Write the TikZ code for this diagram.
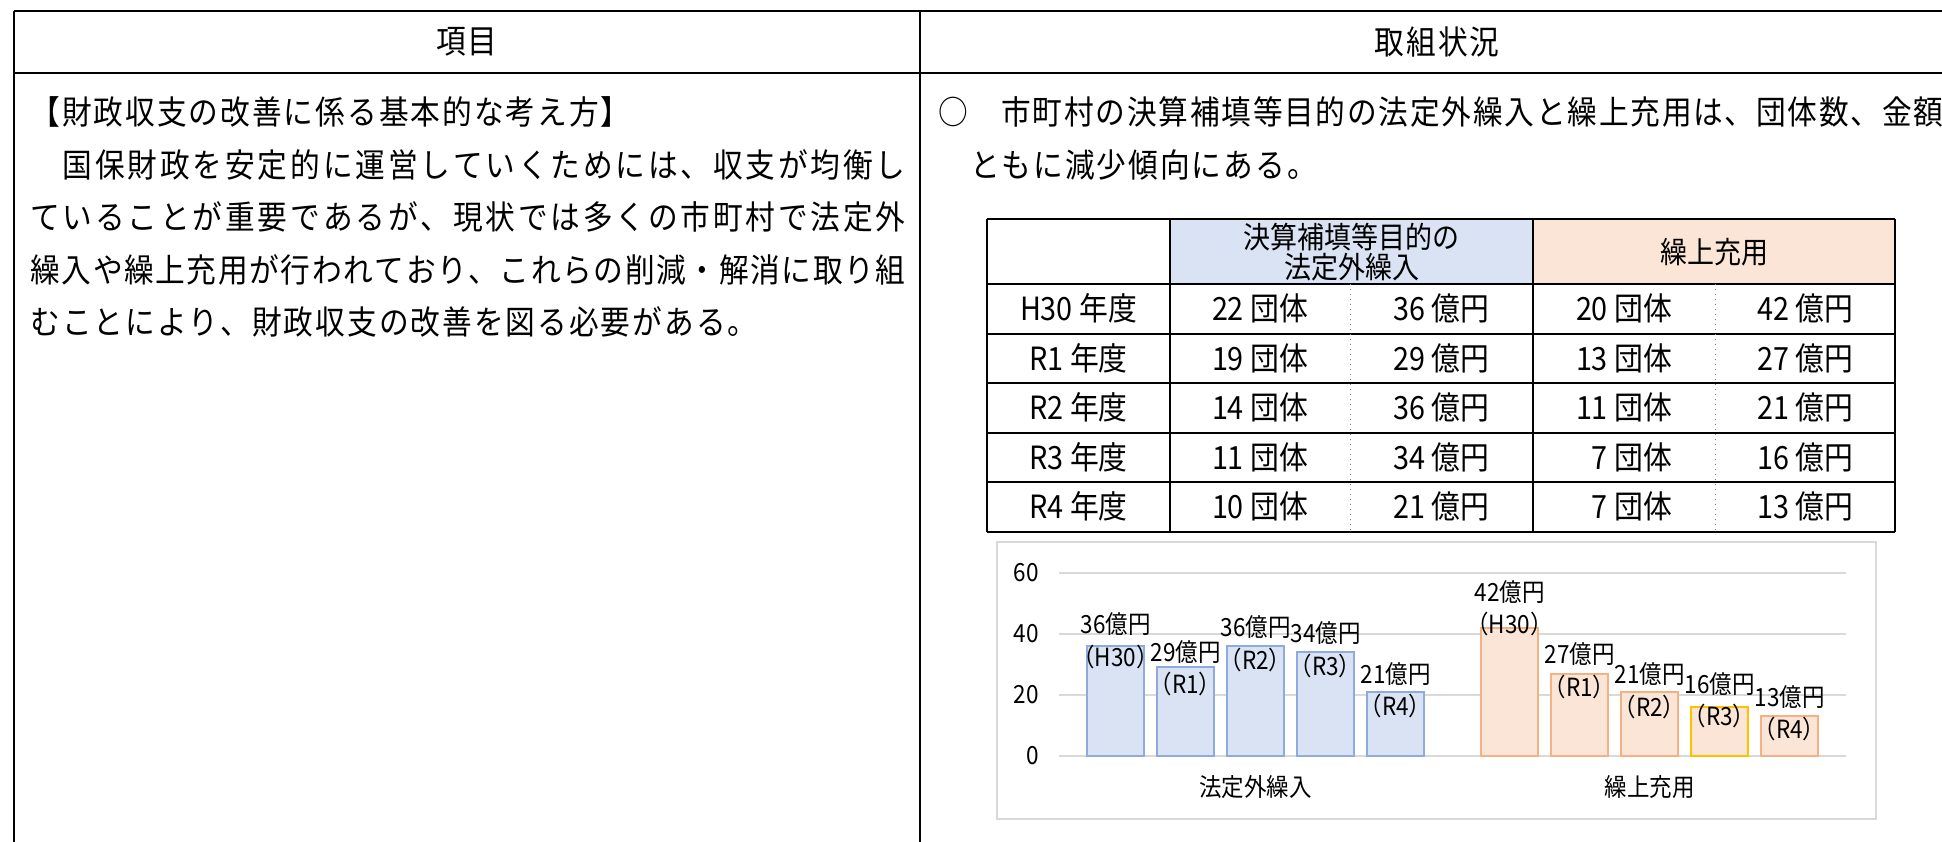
\documentclass[tikz,border=0pt]{standalone}
\usepackage{fontspec}
\newfontfamily\jpf[FakeStretch=0.9]{Noto Sans CJK JP}
\definecolor{hdblue}{HTML}{DAE3F3}
\definecolor{hdorange}{HTML}{FBE5D6}
\definecolor{blueedge}{HTML}{8FAADC}
\definecolor{orangeedge}{HTML}{F4B183}
\definecolor{goldedge}{HTML}{FFC000}
\definecolor{gridgray}{HTML}{D9D9D9}
% spread characters of a line with a given glue between them
\def\jspreadend{JSPREADEND}
\def\jspread#1#2{\def\jsglue{#1}\jspreadA#2\jspreadend}
\def\jspreadA#1{#1\jspreadB}
\def\jspreadB#1{\ifx#1\jspreadend\else\jsglue#1\expandafter\jspreadB\fi}
\newcommand\natline[1]{\jspread{\hskip1pt\relax}{#1}}
\newcommand\justline[2]{\hbox to #1{\jspread{\hskip0pt plus 1fil\relax}{#2}}}
\newcommand\jpbody{\jpf\fontsize{16.5pt}{18pt}\selectfont}
\newcommand\jptab{\jpf\fontsize{16pt}{17pt}\selectfont}
\newcommand\jphd{\jpf\fontsize{15pt}{15pt}\selectfont}
\newcommand\jpchart{\jpf\fontsize{12.5pt}{13pt}\selectfont}
\tikzset{
  bodytext/.style={font=\jpbody, inner sep=0pt, anchor=base west},
  headtext/.style={font=\jpbody, inner sep=0pt},
  celltext/.style={font=\jptab, inner sep=0pt},
  hcelltext/.style={font=\jphd, inner sep=0pt, align=center},
  ticktext/.style={font=\jpchart, inner sep=0pt, anchor=east},
  valtext/.style={font=\jpchart, inner sep=0pt},
  outerline/.style={line width=1.25pt, black},
  tabline/.style={line width=1pt, black},
  dotline/.style={line width=0.5pt, gray, dotted},
  gridline/.style={line width=1pt, gridgray},
  chartframe/.style={line width=0.8pt, gridgray},
  bluebar/.style={fill=hdblue, draw=blueedge, line width=1pt},
  orangebar/.style={fill=hdorange, draw=orangeedge, line width=1pt},
}
\begin{document}
\begin{tikzpicture}[x=0.5pt,y=-0.5pt]
\useasboundingbox (0,0) rectangle (1942,841);
\fill[white] (0,0) rectangle (1942,841);
\clip (0,0) rectangle (1942,841);

% outer table
\draw[outerline] (14,11) -- (1955,11);
\draw[outerline] (14,73) -- (1955,73);
\draw[outerline] (14,11) -- (14,845);
\draw[outerline] (920,11) -- (920,845);
\draw[outerline] (1955,11) -- (1955,845);

\node[headtext] (h1) at (467,42) {\natline{項目}};
\node[headtext] (h2) at (1437,42) {\natline{取組状況}};

% left column text
\node[bodytext] (l1) at (30,124.5) {\natline{【財政収支の改善に係る基本的な考え方】}};
\node[bodytext] (l2) at (30,177) {\justline{437.5pt}{　国保財政を安定的に運営していくためには、収支が均衡し}};
\node[bodytext] (l3) at (30,229.5) {\justline{437.5pt}{ていることが重要であるが、現状では多くの市町村で法定外}};
\node[bodytext] (l4) at (30,282) {\justline{437.5pt}{繰入や繰上充用が行われており、これらの削減・解消に取り組}};
\node[bodytext] (l5) at (30,334.5) {\natline{むことにより、財政収支の改善を図る必要がある。}};

% right column text
\node[bodytext] (r1) at (938,124.5) {\justline{502.5pt}{○　市町村の決算補填等目的の法定外繰入と繰上充用は、団体数、金額}};
\node[bodytext] (r2) at (938,177) {\natline{　ともに減少傾向にある。}};

% inner table
\fill[hdblue] (1170,219) rectangle (1533,284);
\fill[hdorange] (1533,219) rectangle (1895,284);
\foreach \yy in {219,284,333.5,383,432.5,482,531.5}
  \draw[tabline] (987,\yy) -- (1895,\yy);
\foreach \xx in {987,1170,1533,1895}
  \draw[tabline] (\xx,219) -- (\xx,531.5);
\draw[dotline] (1350,284) -- (1350,531.5);
\draw[dotline] (1715,284) -- (1715,531.5);

\node[hcelltext] (th1) at (1351.5,252) {決算補填等目的の\\法定外繰入};
\node[hcelltext] (th2) at (1714,252) {繰上充用};

\foreach \ra/\rb/\rc/\rd/\re [count=\i] in {
  H30 年度/22 団体/36 億円/20 団体/42 億円,
  R1 年度/19 団体/29 億円/13 団体/27 億円,
  R2 年度/14 団体/36 億円/11 団体/21 億円,
  R3 年度/11 団体/34 億円/\phantom{1}7 団体/16 億円,
  R4 年度/10 団体/21 億円/\phantom{1}7 団体/13 億円} {
  \pgfmathsetmacro\ry{308.75+49.5*(\i-1)}
  \node[celltext] (ta\i) at (1078.5,\ry) {\ra};
  \node[celltext] (tb\i) at (1260,\ry) {\rb};
  \node[celltext] (tc\i) at (1441.5,\ry) {\rc};
  \node[celltext] (td\i) at (1624,\ry) {\rd};
  \node[celltext] (te\i) at (1805,\ry) {\re};
}

% chart
\draw[chartframe] (997,542) rectangle (1876,819);
\foreach \gv in {0,20,40,60} {
  \draw[gridline] (1059,{756-\gv*3.055}) -- (1846,{756-\gv*3.055});
  \node[ticktext] (tick\gv) at (1039,{756-\gv*3.055}) {\gv};
}

\foreach \bval/\blab/\vy/\py [count=\i] in {36/H30/624/657, 29/R1/652/684, 36/R2/627/660, 34/R3/633/666, 21/R4/674/706} {
  \pgfmathsetmacro\cx{1115.5+70*(\i-1)}
  \draw[bluebar] ({\cx-28.5},756) rectangle ({\cx+28.5},{756-\bval*3.055});
  \node[valtext] (bv\i) at (\cx,\vy) {{\bval}億円};
  \node[valtext] (bp\i) at (\cx,\py) {（\blab）};
}
\foreach \bval/\blab/\vy/\py/\ec [count=\i] in {42/H30/592/624/orangeedge, 27/R1/654/687/orangeedge, 21/R2/674/707/orangeedge, 16/R3/684/716/goldedge, 13/R4/697/729/orangeedge} {
  \pgfmathsetmacro\cx{1509.5+70*(\i-1)}
  \draw[orangebar, draw=\ec] ({\cx-28.5},756) rectangle ({\cx+28.5},{756-\bval*3.055});
  \node[valtext] (ov\i) at (\cx,\vy) {{\bval}億円};
  \node[valtext] (op\i) at (\cx,\py) {（\blab）};
}
\node[valtext] (cat1) at (1255.5,787) {法定外繰入};
\node[valtext] (cat2) at (1649.5,787) {繰上充用};
\end{tikzpicture}
\end{document}
